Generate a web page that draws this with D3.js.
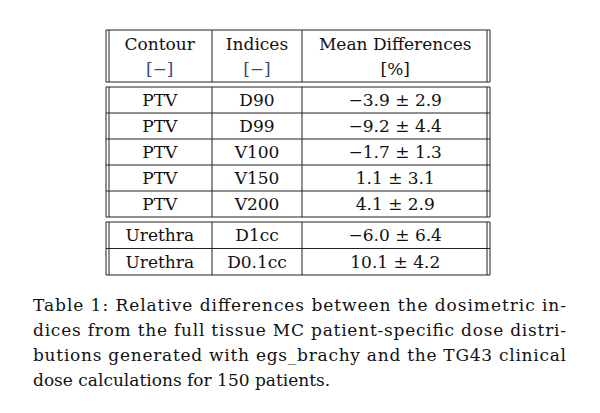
<!DOCTYPE html>
<html><head><meta charset="utf-8">
<script src="https://cdn.jsdelivr.net/npm/d3@7"></script>
<style>body{margin:0;background:#fff}text{font-family:"DejaVu Serif","Liberation Serif",serif;fill:#111}</style>
</head><body><svg id="c" width="600" height="413"></svg>
<script>
const headers = [["Contour", "[−]"], ["Indices", "[−]"], ["Mean Differences", "[%]"]];
const contours = ["PTV", "PTV", "PTV", "PTV", "PTV", "Urethra", "Urethra"];
const indices = ["D90", "D99", "V100", "V150", "V200", "D1cc", "D0.1cc"];
const means = ["−3.9", "−9.2", "−1.7", "1.1", "4.1", "−6.0", "10.1"];
const sds = ["2.9", "4.4", "1.3", "3.1", "2.9", "6.4", "4.2"];
const groups = [[0, 5], [5, 7]];
const caption = [
  "Table 1:  Relative differences between the dosimetric in-",
  "dices from the full tissue MC patient-specific dose distri-",
  "butions generated with egs_brachy and the TG43 clinical",
  "dose calculations for 150 patients."
];

const svg = d3.select("#c");
const fs = 17;
const colEdges = [107.5, 212, 302, 488.5];
const colMid = i => (colEdges[i] + colEdges[i + 1]) / 2;
const line = (x1, y1, x2, y2) => svg.append("line").attr("x1", x1).attr("y1", y1).attr("x2", x2).attr("y2", y2)
  .attr("stroke", "#222").attr("stroke-width", 1);

function block(top, bottom) {
  line(106, top, 490, top); line(106, bottom, 490, bottom);
  [106, 109, 487, 490, 212, 302].forEach(x => line(x, top, x, bottom));
}

// header
block(30, 82);
headers.forEach((h, i) => {
  svg.append("text").attr("x", colMid(i)).attr("y", 50).attr("text-anchor", "middle").attr("font-size", fs).text(h[0]);
  svg.append("text").attr("x", colMid(i)).attr("y", 75).attr("text-anchor", "middle").attr("font-size", fs)
    .style("fill", i < 2 ? "#3a4a7a" : "#111").text(h[1]);
});

// body blocks
const blockBounds = [[87, 217], [222, 275]];
groups.forEach(([a, b], g) => {
  const [top, bottom] = blockBounds[g];
  const y = d3.scaleBand().domain(d3.range(a, b)).range([top, bottom]);
  block(top, bottom);
  d3.range(a + 1, b).forEach(r => line(106, y(r), 490, y(r)));
  d3.range(a, b).forEach(r => {
    const cy = y(r) + y.bandwidth() / 2 + 6;
    [contours[r], indices[r], `${means[r]} ± ${sds[r]}`].forEach((t, i) => {
      svg.append("text").attr("x", colMid(i)).attr("y", cy).attr("text-anchor", "middle").attr("font-size", fs).text(t);
    });
  });
});

// caption
caption.forEach((t, i) => {
  const el = svg.append("text").attr("x", 33).attr("y", 311 + i * 25).attr("font-size", fs).text(t);
  if (i < caption.length - 1) el.attr("textLength", 533).attr("lengthAdjust", "spacing");
});
</script></body></html>
